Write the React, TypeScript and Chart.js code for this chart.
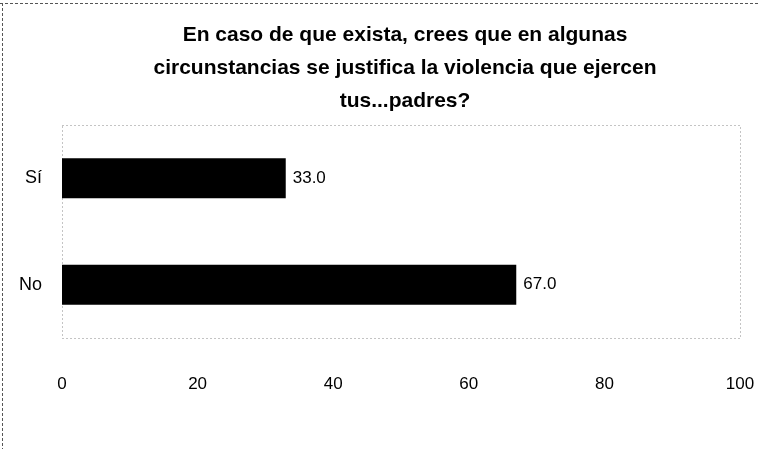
import React, { useEffect, useRef } from "react";
import { Chart, registerables } from "chart.js";

Chart.register(...registerables);

const titleLines = [
  "En caso de que exista, crees que en algunas",
  "circunstancias se justifica la violencia que ejercen",
  "tus...padres?",
];
const categories = ["Sí", "No"];
const values = [33.0, 67.0];
const xTicks = [0, 20, 40, 60, 80, 100];

const FONT = "'Liberation Sans', Arial, sans-serif";

const framePlugin = {
  id: "frame",
  beforeDraw(chart: any) {
    const ctx = chart.ctx;
    const { left, right, top, bottom } = chart.chartArea;
    ctx.save();
    // outer dashed frame (top and left)
    ctx.strokeStyle = "#555";
    ctx.lineWidth = 1;
    ctx.setLineDash([3, 2]);
    ctx.beginPath();
    ctx.moveTo(0, 3.5);
    ctx.lineTo(chart.width, 3.5);
    ctx.moveTo(2.5, 3);
    ctx.lineTo(2.5, chart.height);
    ctx.stroke();
    // dotted plot area
    ctx.strokeStyle = "#888";
    ctx.setLineDash([1, 3]);
    ctx.strokeRect(left + 0.5, top + 0.5, right - left, bottom - top);
    ctx.restore();
  },
  afterDraw(chart: any) {
    const ctx = chart.ctx;
    ctx.save();
    // title
    ctx.fillStyle = "#000";
    ctx.font = `bold 21px ${FONT}`;
    ctx.textAlign = "center";
    ctx.textBaseline = "middle";
    titleLines.forEach((t, i) => ctx.fillText(t, 405, 35 + i * 33));
    // data labels
    ctx.font = `17px ${FONT}`;
    ctx.textAlign = "left";
    const meta = chart.getDatasetMeta(0);
    meta.data.forEach((bar: any, i: number) => {
      ctx.fillText(values[i].toFixed(1), bar.x + 7, bar.y);
    });
    ctx.restore();
  },
};

export default function App() {
  const ref = useRef<HTMLCanvasElement>(null);
  useEffect(() => {
    const chart = new Chart(ref.current!, {
      type: "bar",
      data: {
        labels: categories,
        datasets: [
          {
            data: values,
            backgroundColor: "#000",
            borderWidth: 0,
            barPercentage: 0.376,
            categoryPercentage: 1,
          },
        ],
      },
      options: {
        indexAxis: "y",
        responsive: false,
        animation: false,
        layout: { padding: { top: 125, right: 20, left: 0, bottom: 0 } },
        plugins: { legend: { display: false }, tooltip: { enabled: false }, title: { display: false } },
        scales: {
          x: {
            min: 0,
            max: 100,
            afterBuildTicks: (s: any) => {
              s.ticks = xTicks.map((v) => ({ value: v }));
            },
            afterFit: (s: any) => {
              s.height = 111;
              s.paddingRight = 0;
              s.paddingLeft = 0;
            },
            grid: { display: false },
            border: { display: false },
            ticks: { color: "#000", font: { family: FONT, size: 17 }, padding: 28, maxRotation: 0 },
          },
          y: {
            afterFit: (s: any) => {
              s.width = 62;
            },
            grid: { display: false },
            border: { display: false },
            ticks: { color: "#000", font: { family: FONT, size: 18 }, padding: 12 },
          },
        },
      },
      plugins: [framePlugin],
    });
    return () => chart.destroy();
  }, []);
  return (
    <div style={{ position: "absolute", left: 0, top: 0, width: 760, height: 449, background: "#fff" }}>
      <canvas ref={ref} width={760} height={449} />
    </div>
  );
}
